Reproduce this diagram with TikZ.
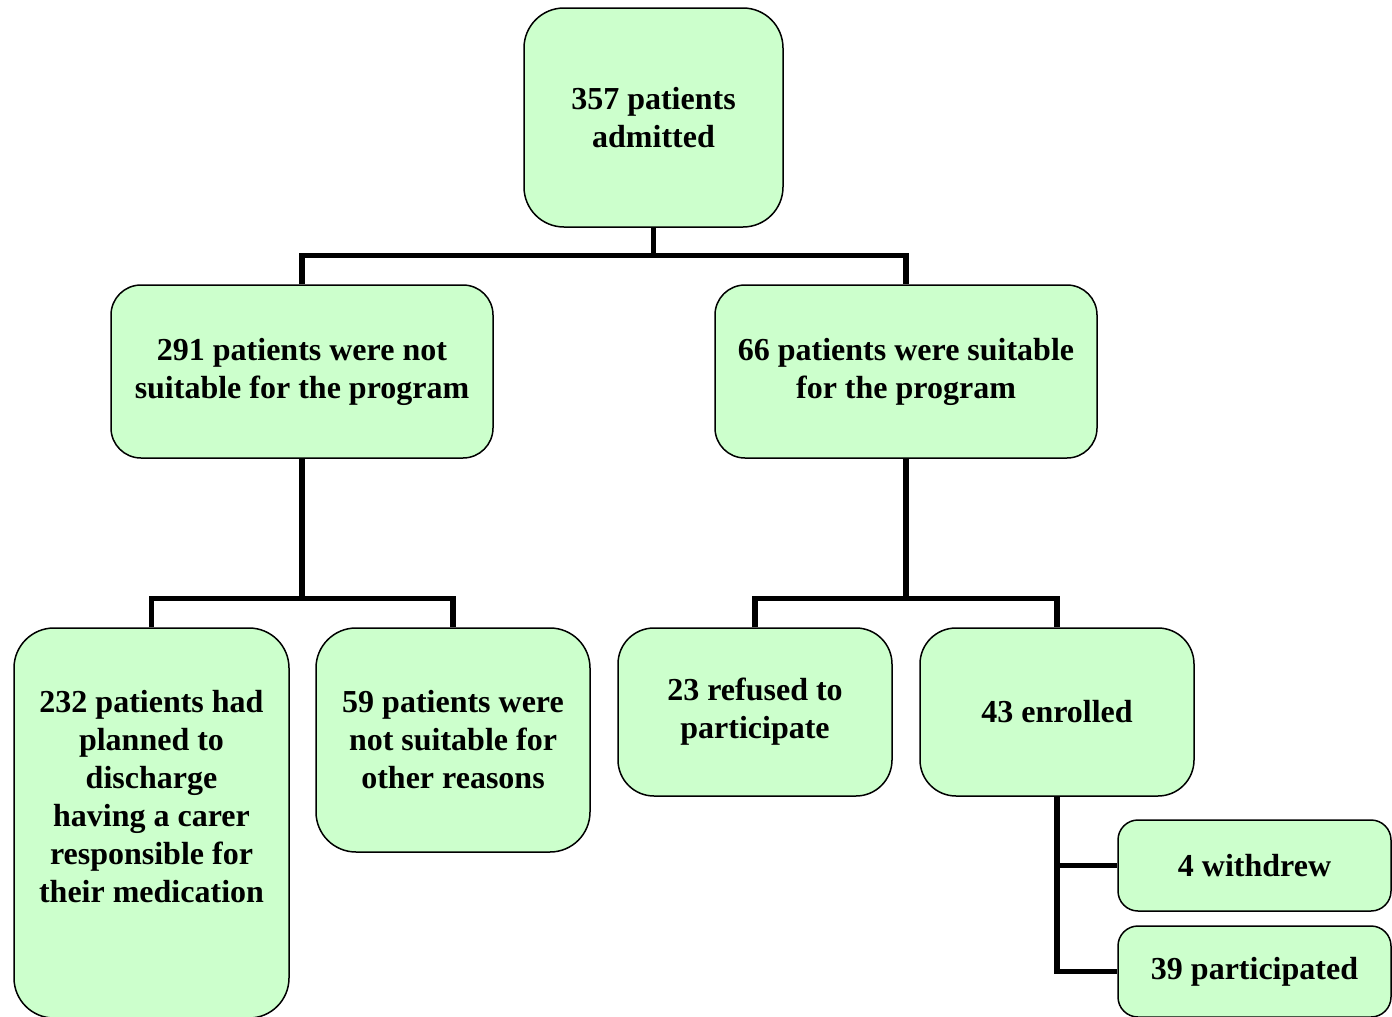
\documentclass[tikz,border=0pt]{standalone}
\usepackage{fontspec}
\usepackage{xcolor}
\usepackage{tikz}
\setmainfont{Liberation Serif}
\definecolor{boxgreen}{RGB}{204, 255, 204}
\definecolor{linkblack}{RGB}{0, 0, 0}

\tikzset{
  flowbox/.style={draw=black, line width=0.75pt, fill=boxgreen, rectangle, rounded corners=20pt,
    align=center, inner sep=0pt, font=\fontsize{16}{19}\selectfont\bfseries},
  link/.style={draw=linkblack, line width=2.6pt}
}

\begin{document}
\begin{tikzpicture}[x=0.5pt, y=-0.5pt]
            \useasboundingbox (0,0) rectangle (1392,1017);

            % Top level
            \node[flowbox, minimum width=129.5pt, minimum height=109.5pt] (admitted) at (653.5,117.5) {357 patients\\admitted};

            % Second level
            \node[flowbox, rounded corners=15pt, minimum width=191pt, minimum height=86.5pt] (notsuit) at (302,371.5) {291 patients were not\\suitable for the program};
            \node[flowbox, rounded corners=15pt, minimum width=191pt, minimum height=86.5pt] (suit) at (906,371.5) {66 patients were suitable\\for the program};

            % Third level, left
            \node[flowbox, minimum width=137.5pt, minimum height=195pt] (discharge) at (151.5,823) {};
            \node[align=center, inner sep=0pt, font=\fontsize{16}{19}\selectfont\bfseries] (dischargetext) at (151.5,797) {232 patients had\\planned to\\discharge\\having a carer\\responsible for\\their medication};
            \node[flowbox, minimum width=137pt, minimum height=112pt] (otherreason) at (453,740) {59 patients were\\not suitable for\\other reasons};

            % Third level, right
            \node[flowbox, rounded corners=18pt, minimum width=137pt, minimum height=84pt] (refused) at (755,712) {23 refused to\\participate};
            \node[flowbox, rounded corners=18pt, minimum width=137pt, minimum height=84pt] (enrolled) at (1057,712) {43 enrolled};

            % Fourth level
            \node[flowbox, rounded corners=10pt, minimum width=136.5pt, minimum height=45.5pt] (withdrew) at (1254.5,865.5) {4 withdrew};
            \node[flowbox, rounded corners=10pt, minimum width=136.5pt, minimum height=45.5pt] (particip) at (1254.5,971.5) {39 participated};

            % Connectors
            \draw[link] (admitted.south) -- ++(0,28) coordinate (j1);
            \draw[link] (notsuit.north) |- (j1) -| (suit.north);
            \draw[link] (notsuit.south) -- ++(0,140) coordinate (j2);
            \draw[link] (discharge.north) |- (j2) -| (otherreason.north);
            \draw[link] (suit.south) -- ++(0,140) coordinate (j3);
            \draw[link] (refused.north) |- (j3) -| (enrolled.north);
            \draw[link] (enrolled.south) |- (withdrew.west);
            \draw[link] (enrolled.south) |- (particip.west);
        \end{tikzpicture}
\end{document}
